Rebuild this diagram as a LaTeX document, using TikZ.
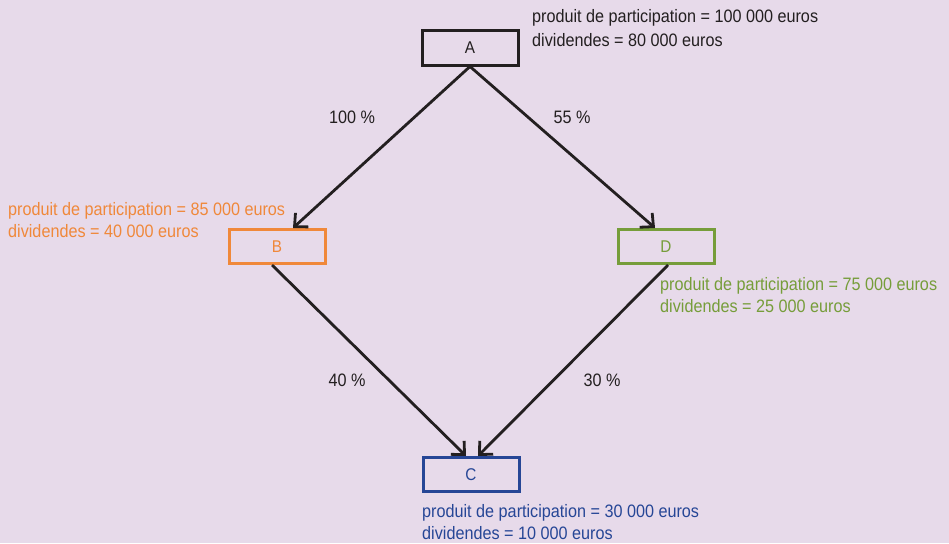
\documentclass[tikz,border=0pt]{standalone}
\usepackage{fontspec}
\setmainfont{Liberation Sans}[FakeStretch=0.9]
\usetikzlibrary{arrows.meta}

\definecolor{fond}{RGB}{231,218,234}
\definecolor{encre}{RGB}{35,31,32}
\definecolor{orangeB}{RGB}{240,136,58}
\definecolor{vertD}{RGB}{118,157,58}
\definecolor{bleuC}{RGB}{38,70,150}

\tikzset{
  societe/.style={draw, line width=3pt, minimum width=96pt, minimum height=34pt, inner sep=0pt, font=\fontsize{17}{17}\selectfont},
  info/.style={anchor=north west, align=left, inner sep=0pt, font=\fontsize{18}{22}\selectfont},
  taux/.style={text=encre, inner sep=0pt, font=\fontsize{18}{18}\selectfont},
  lien/.style={draw=encre, line width=2.8pt, -{Straight Barb[length=10pt,width=19pt]}}
}

\begin{document}
\begin{tikzpicture}[x=1pt,y=-1pt]
  % fond
  \fill[fond] (0,0) rectangle (949,543);
  \useasboundingbox (0,0) rectangle (949,543);

  % societes
  \node[societe, draw=encre, text=encre] (A) at (470,48) {A};
  \node[societe, draw=orangeB, text=orangeB] (B) at (277,246.5) {B};
  \node[societe, draw=vertD, text=vertD] (D) at (666,246.5) {D};
  \node[societe, draw=bleuC, text=bleuC] (C) at (471,474.5) {C};

  % montants
  \node[info, text=encre, font=\fontsize{18}{24}\selectfont] (infoA) at (532,9) {produit de participation = 100 000 euros\\dividendes = 80 000 euros};
  \node[info, text=orangeB] (infoB) at (8,202) {produit de participation = 85 000 euros\\dividendes = 40 000 euros};
  \node[info, text=vertD] (infoD) at (660,277) {produit de participation = 75 000 euros\\dividendes = 25 000 euros};
  \node[info, text=bleuC] (infoC) at (422,504) {produit de participation = 30 000 euros\\dividendes = 10 000 euros};

  % participations
  \draw[lien] (A.south) -- ([xshift=16pt]B.north);
  \draw[lien] (A.south) -- ([xshift=-11pt]D.north);
  \draw[lien] ([xshift=-5pt]B.south) -- ([xshift=-5pt]C.north);
  \draw[lien] ([xshift=2pt]D.south) -- ([xshift=7pt]C.north);

  % pourcentages
  \node[taux] (tAB) at (352,117) {100 \%};
  \node[taux] (tAD) at (572,117) {55 \%};
  \node[taux] (tBC) at (347,380) {40 \%};
  \node[taux] (tDC) at (602,380) {30 \%};
\end{tikzpicture}
\end{document}
